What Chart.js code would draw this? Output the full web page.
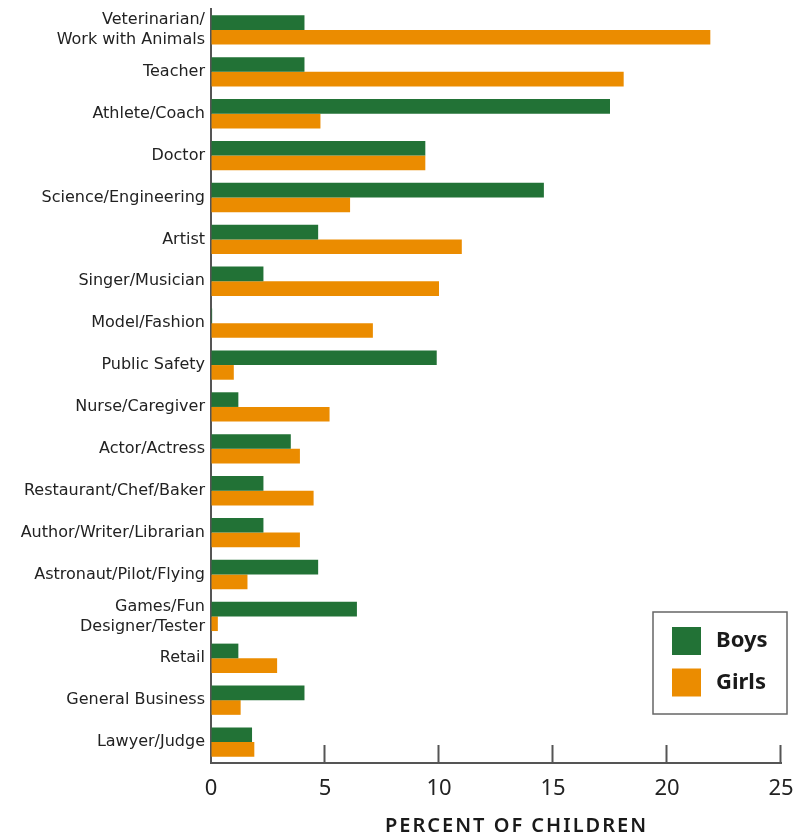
<!DOCTYPE html>
<html>
<head>
<meta charset="utf-8">
<script src="https://cdn.jsdelivr.net/npm/chart.js@4"></script>
<style>
  html, body { margin: 0; padding: 0; background: #fff; }
  #wrap { width: 796px; height: 835px; position: relative; }
</style>
</head>
<body>
<div id="wrap"><canvas id="careerChart" width="796" height="835"></canvas></div>
<script>
// categories (top to bottom)
const careers = [
    ['Veterinarian/', 'Work with Animals'],
    'Teacher',
    'Athlete/Coach',
    'Doctor',
    'Science/Engineering',
    'Artist',
    'Singer/Musician',
    'Model/Fashion',
    'Public Safety',
    'Nurse/Caregiver',
    'Actor/Actress',
    'Restaurant/Chef/Baker',
    'Author/Writer/Librarian',
    'Astronaut/Pilot/Flying',
    ['Games/Fun', 'Designer/Tester'],
    'Retail',
    'General Business',
    'Lawyer/Judge'
];
// percent of children
const boys  = [4.1, 4.1, 17.5, 9.4, 14.6, 4.7, 2.3, 0.05, 9.9, 1.2, 3.5, 2.3, 2.3, 4.7, 6.4, 1.2, 4.1, 1.8];
const girls = [21.9, 18.1, 4.8, 9.4, 6.1, 11.0, 10.0, 7.1, 1.0, 5.2, 3.9, 4.5, 3.9, 1.6, 0.3, 2.9, 1.3, 1.9];
const xTicks = [0, 5, 10, 15, 20, 25];
const xTitle = 'PERCENT OF CHILDREN';

const FONT = '"Noto Sans", Lato, sans-serif';
const LABEL_FONT = '"DejaVu Sans", "Noto Sans", sans-serif';

// short tick marks pointing up from the x axis, plus the axis title
const insideTicks = {
    id: 'insideTicks',
    afterDraw(chart) {
        const c = chart.ctx, x = chart.scales.x, a = chart.chartArea;
        c.save();
        c.strokeStyle = '#555';
        c.lineWidth = 2;
        xTicks.slice(1).forEach(v => {
            const px = Math.round(x.getPixelForValue(v)) - 0.5;
            c.beginPath();
            c.moveTo(px, a.bottom);
            c.lineTo(px, a.bottom - 18);
            c.stroke();
        });
        c.fillStyle = '#1a1a1a';
        c.font = '600 20px ' + FONT;
        c.letterSpacing = '2px';
        c.textAlign = 'center';
        c.textBaseline = 'middle';
        c.fillText(xTitle, x.getPixelForValue(13.4), a.bottom + 63);
        c.restore();
    }
};

// boxed legend in the lower right corner
const boxLegend = {
    id: 'boxLegend',
    afterDraw(chart) {
        const c = chart.ctx, a = chart.chartArea;
        const right = a.right + 6, bottom = a.bottom - 49;
        const left = right - 134, top = bottom - 102;
        c.save();
        c.strokeStyle = '#666';
        c.lineWidth = 1.5;
        c.strokeRect(left, top, right - left, bottom - top);
        chart.data.datasets.forEach((ds, i) => {
            const y = top + 15 + i * 41.5;
            c.fillStyle = ds.backgroundColor;
            c.fillRect(left + 19, y, 29, 28);
            c.fillStyle = '#1a1a1a';
            c.font = 'bold 22px ' + FONT;
            c.textBaseline = 'middle';
            c.fillText(ds.label, left + 63, y + 14);
        });
        c.restore();
    }
};

new Chart(document.getElementById('careerChart'), {
    type: 'bar',
    data: {
        labels: careers,
        datasets: [
            { label: 'Boys', data: boys, backgroundColor: '#227236' },
            { label: 'Girls', data: girls, backgroundColor: '#eb8c00' }
        ]
    },
    options: {
        indexAxis: 'y',
        responsive: false,
        animation: false,
        categoryPercentage: 0.7,
        barPercentage: 1.0,
        layout: { padding: { top: 9, right: 15, left: 0, bottom: 0 } },
        plugins: {
            legend: { display: false },
            tooltip: { enabled: false }
        },
        scales: {
            x: {
                min: 0,
                max: 25,
                afterBuildTicks: s => { s.ticks = xTicks.map(v => ({ value: v })); },
                afterFit: s => { s.height = 72; s.paddingLeft = 0; s.paddingRight = 0; },
                grid: { display: true, drawOnChartArea: false, drawTicks: false },
                border: { color: '#555', width: 2 },
                ticks: { color: '#222', padding: 13, font: { family: FONT, size: 22 } }
            },
            y: {
                afterFit: s => { s.width = 211; s.paddingTop = 0; s.paddingBottom = 0; },
                grid: { display: true, drawOnChartArea: false, drawTicks: false },
                border: { color: '#555', width: 2 },
                ticks: {
                    autoSkip: false,
                    color: '#222',
                    padding: 6,
                    font: { family: LABEL_FONT, size: 16, lineHeight: 1.25 }
                }
            }
        }
    },
    plugins: [insideTicks, boxLegend]
});
</script>
</body>
</html>
